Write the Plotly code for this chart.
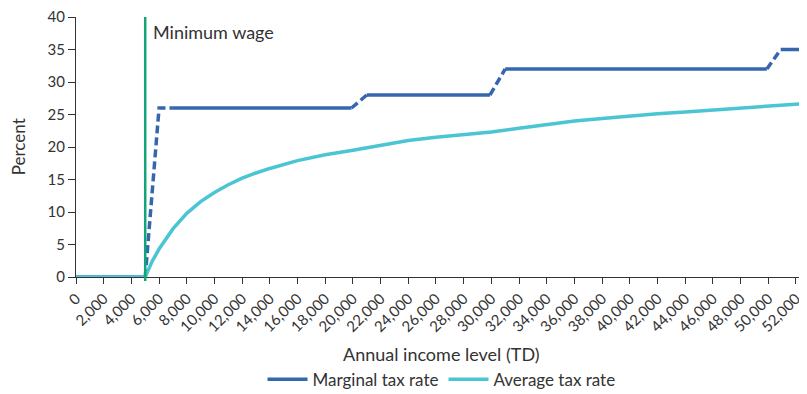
import plotly.graph_objects as go

# income levels (TD) and rates
avg_income = [0, 2000, 4000, 5000, 5500, 6000, 7000, 8000, 9000, 10000, 11000, 12000,
              13000, 14000, 16000, 18000, 20000, 22000, 24000, 26000, 28000, 30000,
              32000, 34000, 36000, 38000, 40000, 42000, 44000, 46000, 48000, 50000,
              52000, 52800]
avg_rate = [0, 0, 0, 0, 2.4, 4.3, 7.4, 9.8, 11.6, 13.0, 14.2, 15.2,
            16.0, 16.7, 17.9, 18.8, 19.5, 20.3, 21.0, 21.5, 21.9, 22.3,
            22.9, 23.5, 24.0, 24.4, 24.8, 25.1, 25.4, 25.7, 26.0, 26.2,
            26.5, 26.7]

# marginal rate: solid bracket segments and dashed jumps between them
marg_solid_x = [0, 5000, None, 7000, 19900, None, 21000, 29900, None, 31000, 49900, None, 50900, 52800]
marg_solid_y = [0, 0, None, 26, 26, None, 28, 28, None, 32, 32, None, 35, 35]
marg_dash_x = [5000, 6000, 7000, None, 19900, 21000, None, 29900, 31000, None, 49900, 50900]
marg_dash_y = [0, 26, 26, None, 26, 28, None, 28, 32, None, 32, 35]

min_wage = 5000
x_ticks = list(range(0, 52001, 2000))

blue = "#3567AE"
cyan = "#4BC5D3"
green = "#13A57A"
font = "Lato"
txt = "#333333"

fig = go.Figure()
fig.add_trace(go.Scatter(x=marg_dash_x, y=marg_dash_y, mode="lines", showlegend=False,
                         line=dict(color=blue, width=3.5, dash="8px,4px"), hoverinfo="skip"))
fig.add_trace(go.Scatter(x=marg_solid_x, y=marg_solid_y, mode="lines", name="Marginal tax rate",
                         line=dict(color=blue, width=3.5)))
fig.add_trace(go.Scatter(x=avg_income, y=avg_rate, mode="lines", name="Average tax rate",
                         line=dict(color=cyan, width=3.5)))

fig.add_shape(type="line", x0=min_wage, x1=min_wage, y0=-0.015, y1=1, xref="x", yref="paper",
              line=dict(color=green, width=2.5))
fig.add_annotation(x=min_wage, y=37.7, xref="x", yref="y", text="Minimum wage",
                   showarrow=False, xanchor="left", xshift=6,
                   font=dict(family=font, size=18, color=txt))
# axis titles
fig.add_annotation(x=0.5, y=-0.298, xref="paper", yref="paper", text="Annual income level (TD)",
                   showarrow=False, xanchor="center", yanchor="middle",
                   font=dict(family=font, size=18, color=txt))
fig.add_annotation(x=-0.079, y=0.5, xref="paper", yref="paper", text="Percent", textangle=-90,
                   showarrow=False, xanchor="center", yanchor="middle",
                   font=dict(family=font, size=17, color=txt))

# page body has an 8px margin, so the figure is a little smaller than the window
fig.update_layout(
    width=799, height=386,
    margin=dict(l=68, r=0, t=9, b=117, autoexpand=False),
    plot_bgcolor="white", paper_bgcolor="white",
    font=dict(family=font, size=15, color=txt),
    showlegend=True,
    legend=dict(orientation="h", x=0.5, xanchor="center", y=-0.395, yanchor="middle",
                font=dict(size=17), itemwidth=40),
)
fig.update_xaxes(
    range=[0, 52800], tickvals=x_ticks, ticktext=[f"{v:,}" for v in x_ticks],
    tickangle=-45, showgrid=False, zeroline=False, automargin=False,
    showline=True, linecolor=txt, linewidth=1, ticklabeloverflow="allow",
    ticks="outside", ticklen=6, tickcolor=txt,
    tickfont=dict(size=15),
)
fig.update_yaxes(
    range=[0, 40], dtick=5, showgrid=False, zeroline=False, automargin=False,
    showline=True, linecolor=txt, linewidth=1, ticklabeloverflow="allow",
    ticks="outside", ticklen=7, tickcolor=txt,
    tickfont=dict(size=15),
)

fig.write_html("out.html")
